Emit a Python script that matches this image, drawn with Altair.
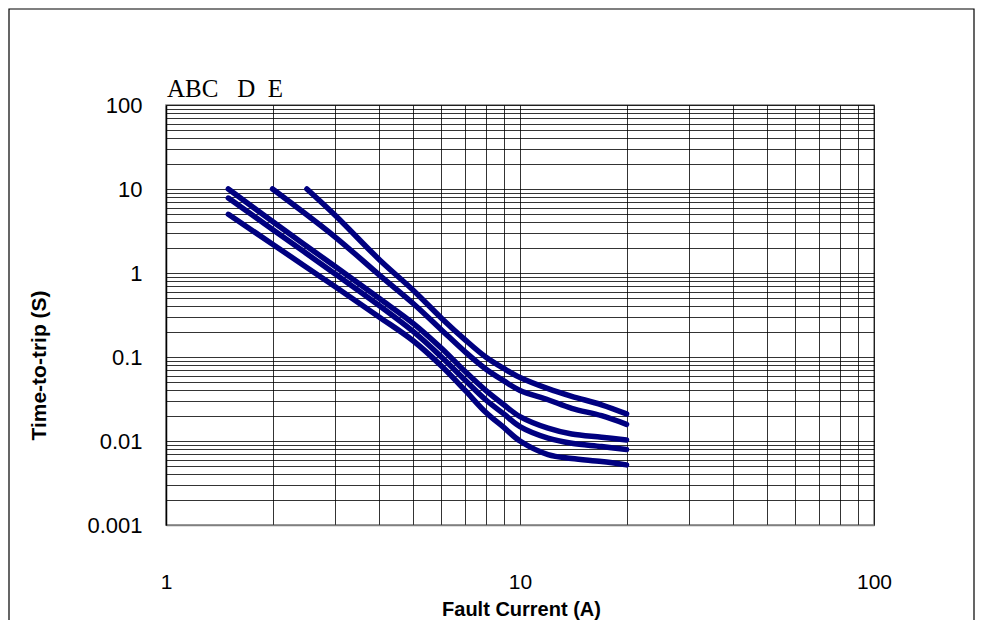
import altair as alt
import pandas as pd

# ---- data ----
curve_names = ["A", "B", "C", "D", "E"]

x_abc = [1.5, 2, 3, 4, 5, 6, 7, 8, 9, 10, 12, 14, 17, 20]
t_a = [5.0, 2.2, 0.69, 0.30, 0.155, 0.078, 0.040, 0.022, 0.0145, 0.0100, 0.0069, 0.0062, 0.0057, 0.0052]
t_b = [7.8, 3.3, 0.98, 0.41, 0.20, 0.10, 0.053, 0.031, 0.021, 0.0148, 0.0108, 0.0094, 0.0086, 0.0079]
t_c = [10.0, 4.1, 1.2, 0.50, 0.25, 0.127, 0.067, 0.040, 0.027, 0.0195, 0.0142, 0.0121, 0.0111, 0.0103]

x_d = [2, 3, 4, 5, 6, 7, 8, 9, 10, 12, 14, 17, 20]
t_d = [10.0, 2.7, 0.95, 0.43, 0.21, 0.115, 0.072, 0.052, 0.040, 0.031, 0.0245, 0.020, 0.0158]

x_e = [2.5, 3, 4, 5, 6, 7, 8, 9, 10, 12, 14, 17, 20]
t_e = [10.0, 4.9, 1.45, 0.62, 0.29, 0.16, 0.10, 0.073, 0.057, 0.042, 0.034, 0.027, 0.021]

x_grid = [1, 2, 3, 4, 5, 6, 7, 8, 9, 10, 20, 30, 40, 50, 60, 70, 80, 90, 100]
y_grid = [0.001, 0.002, 0.003, 0.004, 0.005, 0.006, 0.007, 0.008, 0.009,
          0.01, 0.02, 0.03, 0.04, 0.05, 0.06, 0.07, 0.08, 0.09,
          0.1, 0.2, 0.3, 0.4, 0.5, 0.6, 0.7, 0.8, 0.9,
          1, 2, 3, 4, 5, 6, 7, 8, 9,
          10, 20, 30, 40, 50, 60, 70, 80, 90, 100]
x_label_values = [1, 10, 100]
y_label_values = [0.001, 0.01, 0.1, 1, 10, 100]
header_text = "ABC\u00a0\u00a0\u00a0D\u00a0\u00a0E"

series = [("A", x_abc, t_a), ("B", x_abc, t_b), ("C", x_abc, t_c),
          ("D", x_d, t_d), ("E", x_e, t_e)]
rows = []
for name, xs, ts in series:
    for i, (xv, tv) in enumerate(zip(xs, ts)):
        rows.append({"curve": name, "current": xv, "time": tv, "order": i})
df = pd.DataFrame(rows)


def label_expr(vals):
    arr = ",".join(repr(v) for v in vals)
    return f"indexof([{arr}], datum.value) >= 0 ? format(datum.value, '~g') : ''"


FONT = "Liberation Sans"

x_enc = alt.X(
    "current:Q",
    scale=alt.Scale(type="log", domain=[1, 100], nice=False),
    axis=alt.Axis(
        values=x_grid, labelExpr=label_expr(x_label_values), labelOverlap=False,
        labelFlush=False, ticks=False, grid=True, gridColor="#000000", gridWidth=0.8,
        domainColor="#808080", domainWidth=1.5,
        labelFont=FONT, labelFontSize=21, labelColor="#000000", labelPadding=46,
        title="Fault Current (A)", titleFont=FONT, titleFontSize=20, titleFontWeight="bold",
        titleColor="#000000", titleX=355, titleY=84, titleBaseline="middle",
    ),
)
y_enc = alt.Y(
    "time:Q",
    scale=alt.Scale(type="log", domain=[0.001, 100], nice=False),
    axis=alt.Axis(
        values=y_grid, labelExpr=label_expr(y_label_values), labelOverlap=False,
        labelFlush=False, ticks=False, grid=True, gridColor="#000000", gridWidth=0.8,
        domainColor="#000000", domainWidth=1.5,
        labelFont=FONT, labelFontSize=22, labelColor="#000000", labelPadding=24,
        title="Time-to-trip (S)", titleFont=FONT, titleFontSize=21, titleFontWeight="bold",
        titleColor="#000000", titleX=-127, titleY=260, titleAngle=270,
        titleAlign="center", titleBaseline="middle",
    ),
)

lines = alt.Chart(df).mark_line(
    color="#000080", strokeWidth=5.5, strokeCap="round", strokeJoin="round",
    interpolate="catmull-rom",
).encode(x=x_enc, y=y_enc, detail="curve:N", order="order:Q")

header = alt.Chart(pd.DataFrame({"t": [header_text]})).mark_text(
    align="left", baseline="alphabetic", dx=1, dy=-8,
    font="Liberation Serif", fontSize=25, color="#000000",
).encode(x=alt.datum(1), y=alt.datum(100), text="t:N")

frame = alt.Chart(pd.DataFrame({"k": [0]})).mark_rect(
    filled=False, stroke="#000000", strokeWidth=1.2,
).encode(x=alt.value(-157), x2=alt.value(808), y=alt.value(-96), y2=alt.value(600))

chart = alt.layer(lines, header, frame).properties(
    width=708, height=420,
    autosize=alt.AutoSizeParams(type="none"),
    padding={"left": 158, "top": 97, "right": 103, "bottom": 95},
    background="white",
).configure_view(stroke="#808080", strokeWidth=1.5)

chart.save("out.html", embed_options={"renderer": "svg", "actions": False})
